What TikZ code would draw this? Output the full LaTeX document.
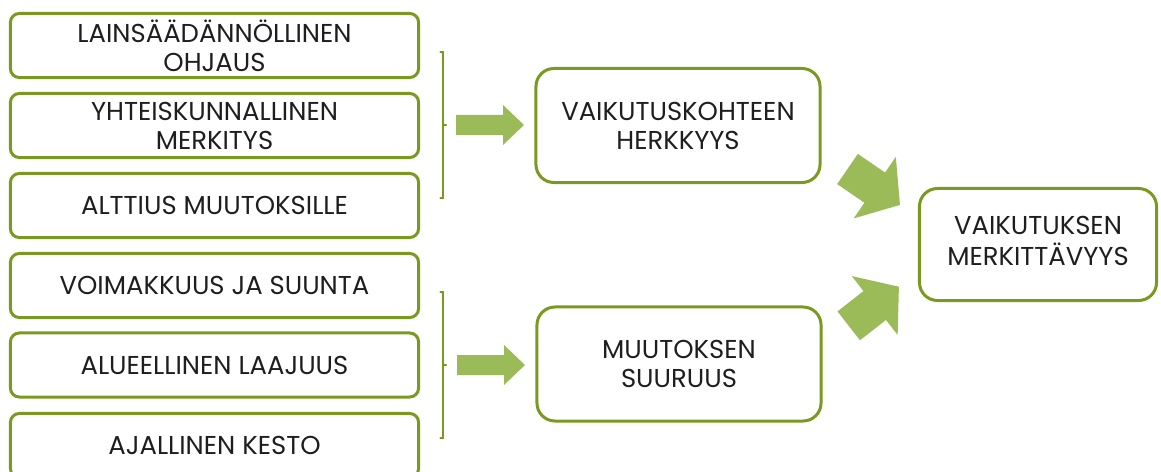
\documentclass[tikz,border=0pt]{standalone}
\usepackage{fontspec}
\setmainfont{Poppins}
\usetikzlibrary{positioning}

\definecolor{boxgreen}{RGB}{122,153,32}
\definecolor{arrowgreen}{RGB}{155,187,89}
\definecolor{textgray}{RGB}{30,30,30}

\tikzset{
  factor/.style={draw=boxgreen,line width=0.075cm,rounded corners=0.22cm,
    minimum width=10.2cm,minimum height=1.6cm,align=center,text=textgray,
    font=\fontsize{18.4}{20.6}\selectfont},
  result/.style={factor,rounded corners=0.45cm,minimum width=7.1cm,minimum height=2.85cm},
  bracket/.style={draw=boxgreen,line width=0.06cm,line cap=round},
  blockarrow/.style={fill=arrowgreen,draw=none}
}

\begin{document}
\begin{tikzpicture}[x=0.025cm,y=-0.025cm]
  \useasboundingbox (0,0) rectangle (1161,472);

  \foreach \y/\n/\t in {45.5/ohjaus/LAINSÄÄDÄNNÖLLINEN\\OHJAUS,
    125.5/merkitys/YHTEISKUNNALLINEN\\MERKITYS, 205.5/alttius/ALTTIUS MUUTOKSILLE,
    285.5/voimakkuus/VOIMAKKUUS JA SUUNTA, 365/laajuus/ALUEELLINEN LAAJUUS,
    445.5/kesto/AJALLINEN KESTO}
  \node[factor] (\n) at (214.5,\y) {\t};

  \node[result] (herkkyys) at (678,125.5) {VAIKUTUSKOHTEEN\\HERKKYYS};
  \node[result] (suuruus) at (679,364) {MUUTOKSEN\\SUURUUS};
  \node[result,minimum width=5.925cm,minimum height=2.8cm] (merkittavyys)
    at (1038,244.5) {\raisebox{0.15cm}{\begin{tabular}{@{}c@{}}VAIKUTUKSEN\\MERKITTÄVYYS\end{tabular}}};

  % brackets
  \foreach \t/\m/\b in {52/125/198, 292/365/438} {
    \draw[bracket] (440.5,\t) -- (443,\t) -- (443,\b) -- (440.5,\b);
    \draw[bracket] (443,\m) -- (446,\m);
  }

  \coordinate (s1) at (456,125);
  \coordinate (s2) at (457,365);
  \coordinate (s3) at (847.5,169);
  \coordinate (s4) at (848.7,325.8);

  % block arrows
  \foreach \c in {s1,s2}
    \fill[blockarrow,shift={(\c)}] (0,-10) -- (47,-10) -- (47,-20) -- (68,0)
      -- (47,20) -- (47,10) -- (0,10) -- cycle;
  \foreach \c/\a in {s3/-34.4, s4/37.9}
    \fill[blockarrow,shift={(\c)},rotate=\a] (0,-18.3) -- (33,-18.3) -- (33,-37.3)
      -- (63.6,0) -- (33,37.3) -- (33,18.3) -- (0,18.3) -- cycle;

\end{tikzpicture}
\end{document}
